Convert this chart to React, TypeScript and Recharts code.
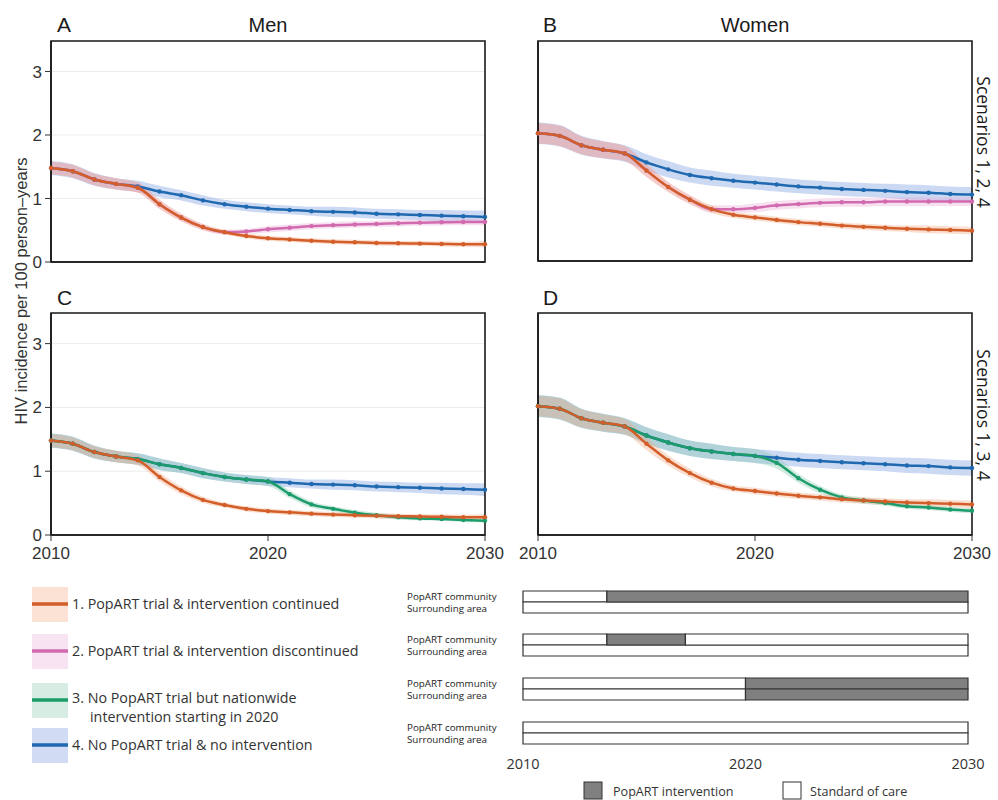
import { ComposedChart, Line, Area, XAxis, YAxis, CartesianGrid, ReferenceArea, BarChart, Bar } from 'recharts';

// years on the x axis
const YEARS = [2010, 2011, 2012, 2013, 2014, 2015, 2016, 2017, 2018, 2019, 2020, 2021, 2022, 2023, 2024, 2025, 2026, 2027, 2028, 2029, 2030];

// HIV incidence per 100 person-years, men
const MEN_S1 = [1.48, 1.43, 1.3, 1.23, 1.17, 0.91, 0.7, 0.55, 0.47, 0.41, 0.375, 0.355, 0.335, 0.32, 0.31, 0.3, 0.295, 0.29, 0.285, 0.28, 0.28];
const MEN_S2 = [1.48, 1.43, 1.3, 1.23, 1.17, 0.91, 0.7, 0.55, 0.47, 0.48, 0.515, 0.54, 0.565, 0.58, 0.59, 0.6, 0.61, 0.62, 0.625, 0.63, 0.63];
const MEN_S3 = [1.48, 1.43, 1.3, 1.23, 1.19, 1.11, 1.05, 0.97, 0.91, 0.87, 0.84, 0.64, 0.48, 0.41, 0.35, 0.31, 0.28, 0.26, 0.25, 0.235, 0.225];
const MEN_S4 = [1.48, 1.43, 1.3, 1.23, 1.19, 1.11, 1.05, 0.97, 0.91, 0.87, 0.84, 0.82, 0.8, 0.79, 0.78, 0.76, 0.75, 0.74, 0.73, 0.72, 0.71];

// women
const WOMEN_S1 = [2.02, 1.98, 1.83, 1.76, 1.7, 1.43, 1.17, 0.97, 0.82, 0.73, 0.69, 0.65, 0.615, 0.59, 0.56, 0.54, 0.525, 0.51, 0.5, 0.49, 0.48];
const WOMEN_S2 = [2.02, 1.98, 1.83, 1.76, 1.7, 1.43, 1.17, 0.97, 0.82, 0.82, 0.84, 0.88, 0.9, 0.92, 0.93, 0.93, 0.94, 0.94, 0.94, 0.94, 0.94];
const WOMEN_S3 = [2.02, 1.98, 1.83, 1.76, 1.7, 1.56, 1.45, 1.36, 1.31, 1.27, 1.24, 1.13, 0.89, 0.71, 0.59, 0.54, 0.5, 0.45, 0.43, 0.4, 0.38];
const WOMEN_S4 = [2.02, 1.98, 1.83, 1.76, 1.7, 1.56, 1.45, 1.36, 1.31, 1.27, 1.24, 1.21, 1.18, 1.16, 1.14, 1.125, 1.11, 1.09, 1.08, 1.06, 1.05];

// half-width of the uncertainty bands
const MEN_S1_HW = [0.1, 0.1, 0.09, 0.09, 0.08, 0.07, 0.06, 0.05, 0.04, 0.04, 0.04, 0.04, 0.04, 0.04, 0.04, 0.04, 0.04, 0.04, 0.04, 0.04, 0.05];
const MEN_S2_HW = [0.1, 0.1, 0.09, 0.09, 0.08, 0.07, 0.06, 0.05, 0.04, 0.04, 0.05, 0.05, 0.05, 0.05, 0.05, 0.05, 0.05, 0.05, 0.05, 0.05, 0.05];
const MEN_S3_HW = [0.11, 0.11, 0.1, 0.09, 0.09, 0.09, 0.08, 0.08, 0.07, 0.07, 0.07, 0.06, 0.05, 0.04, 0.04, 0.04, 0.04, 0.03, 0.03, 0.03, 0.03];
const MEN_S4_HW = [0.11, 0.11, 0.1, 0.09, 0.09, 0.09, 0.08, 0.08, 0.07, 0.07, 0.07, 0.07, 0.07, 0.08, 0.08, 0.08, 0.08, 0.08, 0.09, 0.09, 0.1];
const WOMEN_S1_HW = [0.16, 0.16, 0.14, 0.13, 0.12, 0.1, 0.08, 0.07, 0.06, 0.05, 0.05, 0.05, 0.05, 0.05, 0.05, 0.05, 0.05, 0.05, 0.06, 0.06, 0.06];
const WOMEN_S2_HW = [0.16, 0.16, 0.14, 0.13, 0.12, 0.1, 0.08, 0.07, 0.06, 0.06, 0.07, 0.07, 0.07, 0.07, 0.07, 0.07, 0.07, 0.07, 0.07, 0.07, 0.07];
const WOMEN_S3_HW = [0.17, 0.17, 0.15, 0.14, 0.13, 0.13, 0.13, 0.12, 0.12, 0.11, 0.11, 0.09, 0.07, 0.06, 0.05, 0.05, 0.04, 0.04, 0.04, 0.04, 0.04];
const WOMEN_S4_HW = [0.17, 0.17, 0.15, 0.14, 0.13, 0.13, 0.13, 0.12, 0.12, 0.11, 0.11, 0.11, 0.11, 0.11, 0.11, 0.11, 0.11, 0.12, 0.12, 0.12, 0.12];

const Y_TICKS = [0, 1, 2, 3];
const Y_MAX = 3.48;
const X_TICKS = [2010, 2020, 2030];

const SCENARIO_LABELS = [
  ['1. PopART trial & intervention continued'],
  ['2. PopART trial & intervention discontinued'],
  ['3. No PopART trial but nationwide', 'intervention starting in 2020'],
  ['4. No PopART trial & no intervention'],
];

// timeline of the intervention per scenario: [start, end] or null
const TL_AREAS = ['PopART community', 'Surrounding area'];
const TL_COMMUNITY = [[2013.77, 2030], [2013.77, 2017.3], [2020, 2030], null];
const TL_SURROUNDING = [null, null, [2020, 2030], null];
const TL_TICKS = [2010, 2020, 2030];

const COLORS: Record<string, string> = { s1: '#d35e29', s2: '#d16aae', s3: '#1c9c6b', s4: '#1f69b1' };
const BANDS: Record<string, string> = { s1: '#f2a27a', s2: '#e8a6d4', s3: '#7fc7a9', s4: '#7f9fe0' };
const BAND_OPACITY: Record<string, number> = { s1: 0.35, s2: 0.35, s3: 0.35, s4: 0.4 };

const SANS = 'Liberation Sans, Arial, sans-serif';
const MYRIAD = 'Open Sans, Noto Sans, sans-serif';
const FRAME = { stroke: '#1a1a1a', strokeWidth: 1.6 };

const buildRows = (series: Record<string, number[]>, widths: Record<string, number[]>) =>
  YEARS.map((year, i) => {
    const row: any = { year };
    Object.keys(series).forEach((k) => {
      row[k] = series[k][i];
      row[k + 'Band'] = [series[k][i] - widths[k][i], series[k][i] + widths[k][i]];
    });
    return row;
  });

const rowsA = buildRows({ s1: MEN_S1, s2: MEN_S2, s4: MEN_S4 }, { s1: MEN_S1_HW, s2: MEN_S2_HW, s4: MEN_S4_HW });
const rowsB = buildRows({ s1: WOMEN_S1, s2: WOMEN_S2, s4: WOMEN_S4 }, { s1: WOMEN_S1_HW, s2: WOMEN_S2_HW, s4: WOMEN_S4_HW });
const rowsC = buildRows({ s1: MEN_S1, s3: MEN_S3, s4: MEN_S4 }, { s1: MEN_S1_HW, s3: MEN_S3_HW, s4: MEN_S4_HW });
const rowsD = buildRows({ s1: WOMEN_S1, s3: WOMEN_S3, s4: WOMEN_S4 }, { s1: WOMEN_S1_HW, s3: WOMEN_S3_HW, s4: WOMEN_S4_HW });

const segment = (area: string, span: number[] | null) =>
  span
    ? { area, pre: span[0] - 2010, on: span[1] - span[0], post: 2030 - span[1] }
    : { area, pre: 20, on: 0, post: 0 };

const timelineRows = TL_COMMUNITY.map((c, i) => [segment(TL_AREAS[0], c), segment(TL_AREAS[1], TL_SURROUNDING[i])]);

function Panel({ rows, keys, left, top, width, height, marginTop, marginRight, yWidth, xHeight, yLabels, xLabels }: any) {
  const tickStyle = { fontSize: 17, fill: '#333', fontFamily: SANS };
  return (
    <div style={{ position: 'absolute', left, top }}>
      <ComposedChart width={width} height={height} data={rows} margin={{ top: marginTop, right: marginRight, bottom: 0, left: 0 }}>
        <CartesianGrid vertical={false} stroke="#ececec" />
        <XAxis
          dataKey="year"
          type="number"
          domain={[2010, 2030]}
          ticks={X_TICKS}
          height={xHeight}
          axisLine={FRAME}
          tick={xLabels ? tickStyle : false}
          tickLine={xLabels ? { stroke: '#333' } : false}
          tickSize={6}
          tickMargin={6}
        />
        <YAxis
          type="number"
          domain={[0, Y_MAX]}
          ticks={Y_TICKS}
          width={yWidth}
          axisLine={FRAME}
          tick={yLabels ? tickStyle : false}
          tickLine={yLabels ? { stroke: '#333' } : false}
          tickSize={6}
          tickMargin={3}
        />
        {keys.map((k: string) => (
          <Area
            key={k + 'band'}
            type="monotone"
            dataKey={k + 'Band'}
            stroke="none"
            fill={BANDS[k]}
            fillOpacity={BAND_OPACITY[k]}
            activeDot={false}
            isAnimationActive={false}
          />
        ))}
        {keys.map((k: string) => (
          <Line
            key={k}
            type="monotone"
            dataKey={k}
            stroke={COLORS[k]}
            strokeWidth={2.5}
            dot={{ r: 2.2, fill: COLORS[k], stroke: 'none' }}
            activeDot={false}
            isAnimationActive={false}
          />
        ))}
        <ReferenceArea x1={2010} x2={2030} y1={0} y2={Y_MAX} fill="none" stroke="#1a1a1a" strokeWidth={1.6} />
      </ComposedChart>
    </div>
  );
}

const AreaTick = ({ y, payload, index }: any) => (
  <text x={7} y={y} dy={index === 0 ? 3 : 4} fontSize={9.8} fontFamily={MYRIAD} fill="#222">
    {payload.value}
  </text>
);

function Timeline({ rows, top, last }: any) {
  return (
    <div style={{ position: 'absolute', left: 400, top: top - 1 }}>
      <BarChart
        layout="vertical"
        width={598}
        height={last ? 56 : 24}
        data={rows}
        margin={{ top: 1, right: 30, bottom: 1, left: 0 }}
        barCategoryGap={0}
        barGap={0}
      >
        <XAxis
          type="number"
          domain={[0, 20]}
          ticks={TL_TICKS.map((t) => t - 2010)}
          tickFormatter={(v) => String(v + 2010)}
          hide={!last}
          height={32}
          axisLine={false}
          tickLine={false}
          tickSize={6}
          tickMargin={9}
          tick={{ fontSize: 14.5, fill: '#333', fontFamily: MYRIAD }}
        />
        <YAxis type="category" dataKey="area" width={123} axisLine={false} tickLine={false} tick={<AreaTick />} interval={0} />
        <Bar dataKey="pre" stackId="a" fill="#ffffff" stroke="#333" strokeWidth={1.2} isAnimationActive={false} />
        <Bar dataKey="on" stackId="a" fill="#808080" stroke="#333" strokeWidth={1.2} isAnimationActive={false} />
        <Bar dataKey="post" stackId="a" fill="#ffffff" stroke="#333" strokeWidth={1.2} isAnimationActive={false} />
      </BarChart>
    </div>
  );
}

const LEGEND_Y = [604, 651, 700, 745];
const LEGEND_KEYS = ['s1', 's2', 's3', 's4'];
const TIMELINE_TOPS = [591, 634, 678, 722];

export default function App() {
  return (
    <div style={{ position: 'relative', width: 998, height: 800, background: '#fff', overflow: 'hidden' }}>
      <style>{'body{margin:0}'}</style>
      <Panel rows={rowsA} keys={['s4', 's2', 's1']} left={0} top={0} width={515} height={280} marginTop={41} marginRight={30} yWidth={51} xHeight={18} yLabels xLabels={false} />
      <Panel rows={rowsB} keys={['s4', 's2', 's1']} left={500} top={0} width={498} height={280} marginTop={41} marginRight={26} yWidth={38} xHeight={19} yLabels={false} xLabels={false} />
      <Panel rows={rowsC} keys={['s4', 's3', 's1']} left={0} top={270} width={515} height={300} marginTop={43} marginRight={30} yWidth={51} xHeight={35} yLabels xLabels />
      <Panel rows={rowsD} keys={['s4', 's3', 's1']} left={500} top={270} width={498} height={300} marginTop={43} marginRight={26} yWidth={38} xHeight={35} yLabels={false} xLabels />

      {timelineRows.map((rows, i) => (
        <Timeline key={i} rows={rows} top={TIMELINE_TOPS[i]} last={i === timelineRows.length - 1} />
      ))}

      <svg width={998} height={800} style={{ position: 'absolute', left: 0, top: 0, pointerEvents: 'none' }}>
        <g fontFamily={SANS} fill="#1a1a1a">
          <text x={57} y={32} fontSize={21}>A</text>
          <text x={268} y={32} fontSize={20} textAnchor="middle">Men</text>
          <text x={543} y={32} fontSize={21}>B</text>
          <text x={755} y={32} fontSize={20} textAnchor="middle">Women</text>
          <text x={57} y={305} fontSize={21}>C</text>
          <text x={543} y={305} fontSize={21}>D</text>
          <text x={27} y={291} fontSize={16.5} fill="#333" textAnchor="middle" transform="rotate(-90 27 291)">
            HIV incidence per 100 person–years
          </text>
        </g>
        <g fontFamily={MYRIAD} fill="#1a1a1a" fontSize={17.5}>
          <text x={977} y={142} textAnchor="middle" transform="rotate(90 977 142)">Scenarios 1, 2, 4</text>
          <text x={977} y={415} textAnchor="middle" transform="rotate(90 977 415)">Scenarios 1, 3, 4</text>
        </g>

        {LEGEND_KEYS.map((k, i) => (
          <g key={k}>
            <rect x={32} y={LEGEND_Y[i] - 17} width={36} height={35} fill={BANDS[k]} fillOpacity={BAND_OPACITY[k] * 0.9} />
            <line x1={32} x2={68} y1={LEGEND_Y[i]} y2={LEGEND_Y[i]} stroke={COLORS[k]} strokeWidth={3.5} />
            {SCENARIO_LABELS[i].map((t, j) => (
              <text key={j} x={j === 0 ? 72 : 90} y={LEGEND_Y[i] + 5 + j * 19 - (SCENARIO_LABELS[i].length > 1 ? 2 : 0)} fontSize={14.3} fontFamily={MYRIAD} fill="#333">
                {t}
              </text>
            ))}
          </g>
        ))}

        <rect x={584} y={782} width={18} height={17} fill="#808080" stroke="#333" strokeWidth={1} />
        <text x={613} y={796} fontSize={12.6} fontFamily={MYRIAD} fill="#333">PopART intervention</text>
        <rect x={783} y={782} width={18} height={17} fill="#fff" stroke="#333" strokeWidth={1} />
        <text x={810} y={796} fontSize={12.6} fontFamily={MYRIAD} fill="#333">Standard of care</text>
      </svg>
    </div>
  );
}
